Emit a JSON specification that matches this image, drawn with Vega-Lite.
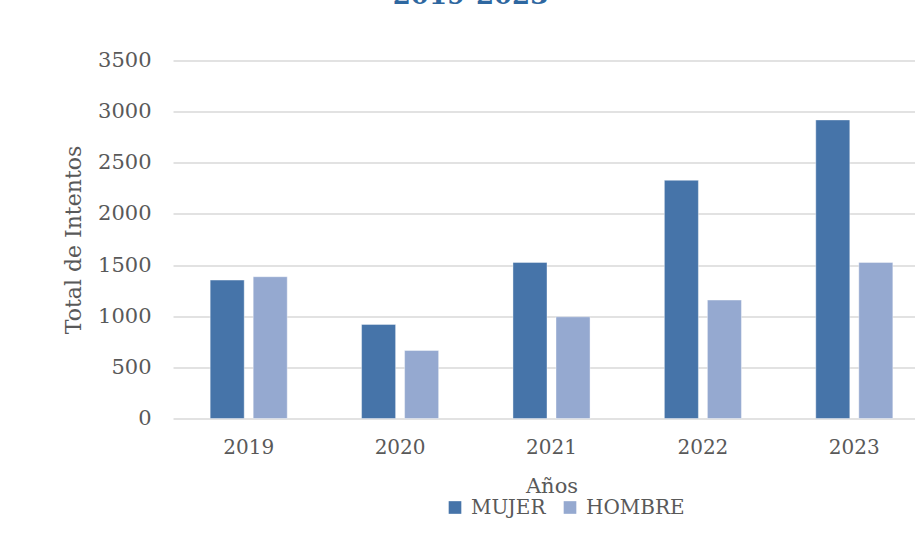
{
  "$schema": "https://vega.github.io/schema/vega-lite/v6.json",
  "width": 757,
  "height": 358,
  "autosize": {"type": "none"},
  "padding": {"left": 173, "top": 60.5, "right": -15, "bottom": 114.5},
  "background": "white",
  "title": {
    "text": "2019-2023",
    "font": "DejaVu Serif",
    "fontSize": 26,
    "fontWeight": "bold",
    "color": "#2E67A0",
    "anchor": "middle",
    "frame": "group",
    "dx": -81,
    "baseline": "alphabetic",
    "offset": 20
  },
  "data": {
    "values": [
      {"year": "2019", "sexo": "MUJER", "total": 1353},
      {"year": "2019", "sexo": "HOMBRE", "total": 1386},
      {"year": "2020", "sexo": "MUJER", "total": 920},
      {"year": "2020", "sexo": "HOMBRE", "total": 665},
      {"year": "2021", "sexo": "MUJER", "total": 1526},
      {"year": "2021", "sexo": "HOMBRE", "total": 994},
      {"year": "2022", "sexo": "MUJER", "total": 2329},
      {"year": "2022", "sexo": "HOMBRE", "total": 1158},
      {"year": "2023", "sexo": "MUJER", "total": 2919},
      {"year": "2023", "sexo": "HOMBRE", "total": 1526}
    ]
  },
  "mark": {"type": "bar", "stroke": "#ffffff", "strokeWidth": 0.8, "strokeOpacity": 0.5},
  "encoding": {
    "x": {
      "field": "year",
      "type": "nominal",
      "scale": {"paddingInner": 0.491, "paddingOuter": 0.2455},
      "axis": {
        "title": "Años",
        "labelAngle": 0,
        "domain": false,
        "ticks": false,
        "labelFont": "DejaVu Serif",
        "labelFontSize": 20,
        "labelColor": "#595959",
        "labelPadding": 19,
        "titleFont": "DejaVu Serif",
        "titleFontSize": 21,
        "titleFontWeight": "normal",
        "titleColor": "#595959",
        "titlePadding": 18
      }
    },
    "xOffset": {
      "field": "sexo",
      "type": "nominal",
      "sort": ["MUJER", "HOMBRE"],
      "scale": {"paddingInner": 0.209, "paddingOuter": 0}
    },
    "y": {
      "field": "total",
      "type": "quantitative",
      "scale": {"domain": [0, 3500], "nice": false},
      "axis": {
        "title": "Total de Intentos",
        "values": [0, 500, 1000, 1500, 2000, 2500, 3000, 3500],
        "format": "d",
        "grid": true,
        "gridColor": "#D9D9D9",
        "gridWidth": 1.5,
        "domain": false,
        "ticks": false,
        "labelFont": "DejaVu Serif",
        "labelFontSize": 21,
        "labelColor": "#595959",
        "labelPadding": 22,
        "titleFont": "DejaVu Serif",
        "titleFontSize": 22,
        "titleFontWeight": "normal",
        "titleColor": "#595959",
        "titlePadding": 12
      }
    },
    "color": {
      "field": "sexo",
      "type": "nominal",
      "sort": ["MUJER", "HOMBRE"],
      "scale": {"domain": ["MUJER", "HOMBRE"], "range": ["#4674A9", "#95A9D0"]},
      "legend": {
        "title": null,
        "orient": "none",
        "direction": "horizontal",
        "legendX": 272,
        "legendY": 437,
        "symbolType": "square",
        "symbolSize": 160,
        "symbolStrokeWidth": 0,
        "labelFont": "DejaVu Serif",
        "labelFontSize": 20,
        "labelColor": "#595959",
        "labelOffset": 6,
        "columnPadding": 14
      }
    }
  },
  "config": {"view": {"stroke": null}}
}
